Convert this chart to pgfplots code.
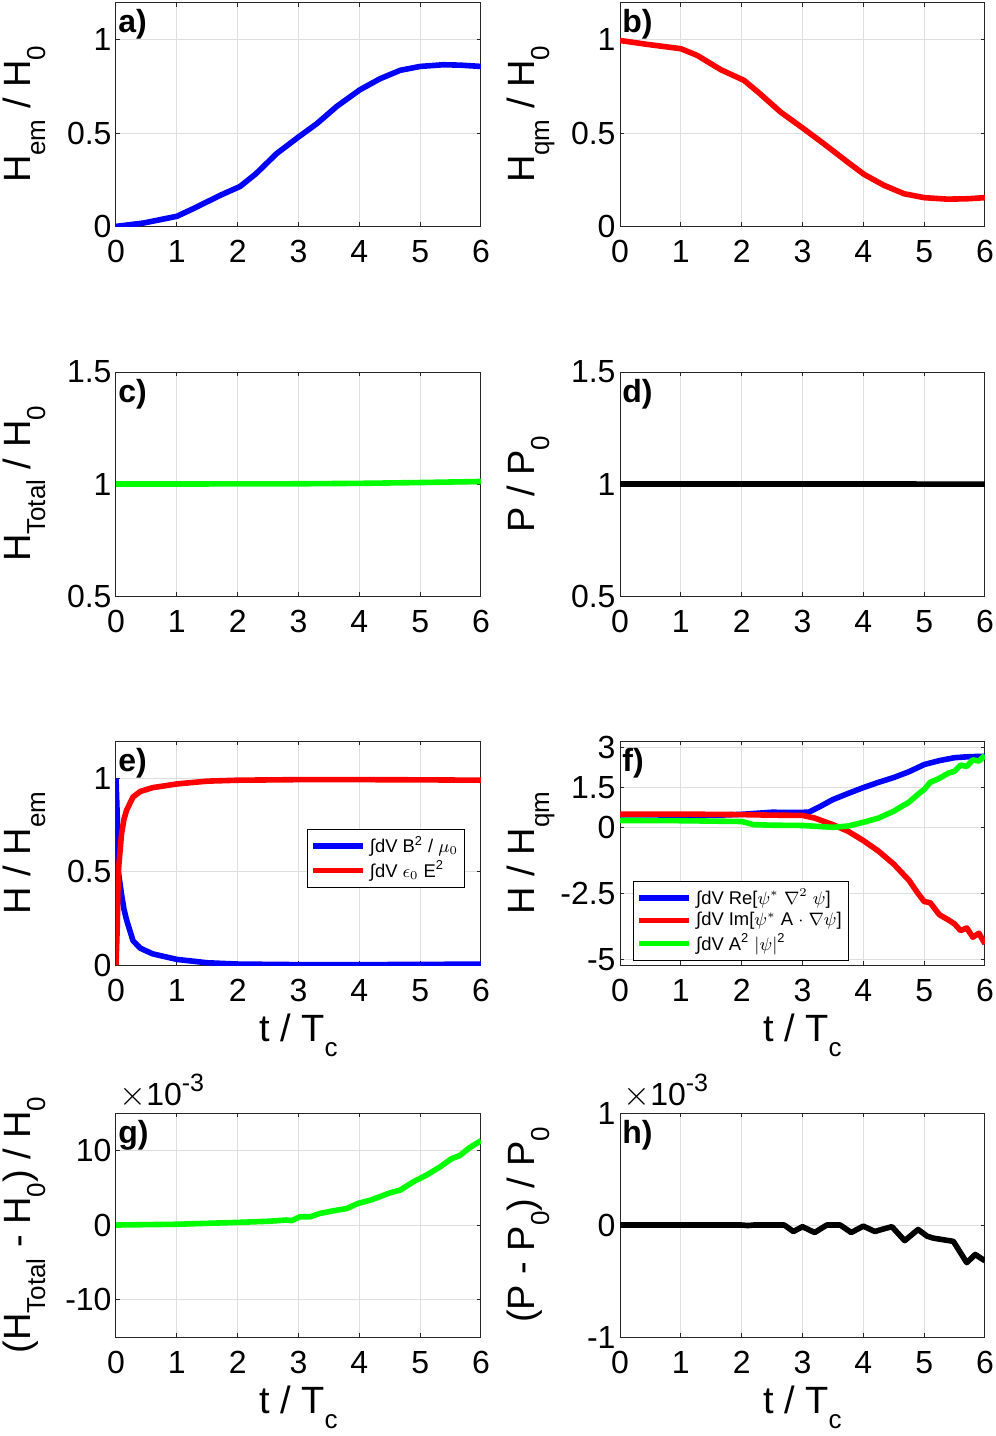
\documentclass[border=0pt]{standalone}
\usepackage{fontspec}
\setmainfont{Liberation Sans}
\usepackage{pgfplots}
\pgfplotsset{compat=1.18}

\newcommand{\ticksize}{\fontsize{16}{16}\selectfont}
\newcommand{\labsize}{\fontsize{19}{19}\selectfont}
\newcommand{\sub}[1]{\raisebox{-7.5pt}{\fontsize{13}{13}\selectfont #1}}
\newcommand{\legsize}{\fontsize{9.2}{9.5}\selectfont}

\definecolor{mblue}{rgb}{0,0,1}
\definecolor{mred}{rgb}{1,0,0}
\definecolor{mgreen}{rgb}{0,1,0}

\tikzset{
  plabel/.style={anchor=north west, inner sep=0pt,
    font=\bfseries\fontsize{16}{16}\selectfont},
}

\pgfplotsset{
  mat/.style={
    scale only axis, width=182.5pt, height=112pt,
    anchor=north west,
    xmin=0, xmax=6, xtick={0,1,2,3,4,5,6},
    xticklabels={0,1,2,3,4,5,6},
    axis line style={black!85, line width=0.5pt},
    tick style={black!85, line width=0.5pt},
    tick align=inside, major tick length=2.2pt,
    grid=major, major grid style={black!13, line width=0.5pt},
    every tick label/.append style={font=\ticksize},
    xticklabel style={yshift=-3.5pt},
    yticklabel style={xshift=1.3pt},
    label style={font=\labsize},
    ylabel style={at={(axis description cs:-0.235,0.5)}, anchor=base},
    xlabel style={at={(axis description cs:0.5,-0.342)}, anchor=base},
    every axis plot/.append style={line width=2.8pt, line join=round},
    legend style={font=\legsize, draw=black, line width=0.5pt, fill=white,
      inner sep=1.5pt, row sep=-1.5pt,
      nodes={inner sep=2pt}},
    legend cell align=left,
    legend image code/.code={\draw[#1] (0pt,0pt) -- (25pt,0pt);},
  },
  expo/.style={
    after end axis/.code={
      \node[anchor=base west, inner sep=0pt, font=\ticksize]
        at (rel axis cs:0,1) [xshift=1.5pt, yshift=4pt]
        {$\times$10\raisebox{7pt}{\fontsize{12.5}{12.5}\selectfont -3}};
    },
  },
}

\begin{document}
\begin{tikzpicture}
\path[use as bounding box] (0,0) rectangle (498pt,-718pt);

% a)
\begin{axis}[mat, at={(58pt,-1.2pt)}, ymin=0, ymax=1.2,
  ytick={0,0.5,1}, yticklabels={0,0.5,1},
  ylabel={H\sub{em} / H\sub{0}}]
\addplot[mblue] coordinates {
 (0,0) (0.45,0.018) (1,0.054) (1.27,0.095) (1.71,0.166) (2.04,0.214)
 (2.3,0.282) (2.64,0.39) (3.0,0.479) (3.3,0.55) (3.63,0.643) (4.01,0.732)
 (4.34,0.791) (4.67,0.836) (5.0,0.857) (5.38,0.866) (5.65,0.864) (6,0.857)};
\node[plabel] at (rel axis cs:0,1) [xshift=1pt, yshift=-3.5pt] {a)};
\end{axis}

% b)
\begin{axis}[mat, at={(310pt,-1.2pt)}, ymin=0, ymax=1.2,
  ytick={0,0.5,1}, yticklabels={0,0.5,1},
  ylabel={H\sub{qm} / H\sub{0}}]
\addplot[mred] coordinates {
 (0,0.996) (0.45,0.975) (1,0.952) (1.27,0.916) (1.66,0.839) (2.04,0.782)
 (2.3,0.711) (2.64,0.6125) (3.02,0.523) (3.35,0.443) (3.74,0.345) (4.01,0.279)
 (4.34,0.22) (4.67,0.175) (5.0,0.154) (5.38,0.146) (5.71,0.148) (6,0.154)};
\node[plabel] at (rel axis cs:0,1) [xshift=1pt, yshift=-3.5pt] {b)};
\end{axis}

% c)
\begin{axis}[mat, at={(58pt,-186pt)}, ymin=0.5, ymax=1.5,
  ytick={0.5,1,1.5}, yticklabels={0.5,1,1.5},
  ylabel={H\sub{Total} / H\sub{0}}]
\addplot[mgreen] coordinates {
 (0,1.0) (1,1.0001) (2,1.0004) (3,1.001) (4,1.0029) (5,1.0065) (5.5,1.0089) (6,1.0113)};
\node[plabel] at (rel axis cs:0,1) [xshift=1pt, yshift=-3.5pt] {c)};
\end{axis}

% d)
\begin{axis}[mat, at={(310pt,-186pt)}, ymin=0.5, ymax=1.5,
  ytick={0.5,1,1.5}, yticklabels={0.5,1,1.5},
  ylabel={P / P\sub{0}}]
\addplot[black] coordinates {(0,1) (3,1) (6,0.9997)};
\node[plabel] at (rel axis cs:0,1) [xshift=1pt, yshift=-3.5pt] {d)};
\end{axis}

% e)
\begin{axis}[mat, at={(58pt,-370.5pt)}, ymin=0, ymax=1.2,
  ytick={0,0.5,1}, yticklabels={0,0.5,1},
  ylabel={H / H\sub{em}}, xlabel={t / T\sub{c}},
  legend style={at={(rel axis cs:0.523,0.609)}, anchor=north west}]
\addplot[mblue] coordinates {
 (0,1) (0.02,0.8) (0.038,0.5) (0.09,0.38) (0.13,0.3) (0.175,0.24) (0.28,0.13)
 (0.4,0.09) (0.6,0.06) (1,0.03) (1.5,0.012) (2,0.005) (3,0.002) (4,0.002)
 (5,0.003) (6,0.005)};
\addlegendentry{∫dV B\textsuperscript{2} / $\mu_0$}
\addplot[mred] coordinates {
 (0,0) (0.02,0.2) (0.038,0.5) (0.09,0.7) (0.13,0.78) (0.175,0.83) (0.28,0.9)
 (0.4,0.93) (0.6,0.95) (1,0.97) (1.5,0.985) (2,0.99) (3,0.993) (4,0.993)
 (5,0.992) (6,0.99)};
\addlegendentry{∫dV $\epsilon_0$ E\textsuperscript{2}}
\node[plabel] at (rel axis cs:0,1) [xshift=1pt, yshift=-3.5pt] {e)};
\end{axis}

% f)
\begin{axis}[mat, at={(310pt,-370.5pt)}, ymin=-5.2, ymax=3.26,
  ytick={-5,-2.5,0,1.5,3}, yticklabels={-5,-2.5,0,1.5,3},
  ylabel={H / H\sub{qm}}, xlabel={t / T\sub{c}},
  legend style={at={(rel axis cs:0.036,0.373)}, anchor=north west}]
\addplot[mblue] coordinates {
 (0,0.47) (0.5,0.47) (1,0.46) (1.5,0.45) (2,0.49) (2.5,0.57) (2.8,0.56)
 (3.1,0.57) (3.3,0.8) (3.5,1.05) (3.75,1.28) (4,1.5) (4.25,1.7) (4.5,1.88)
 (4.75,2.1) (5,2.37) (5.25,2.52) (5.5,2.63) (5.75,2.67) (6,2.68)};
\addlegendentry{∫dV Re[$\psi^*$ $\nabla^2$ $\psi$]}
\addplot[mred] coordinates {
 (0,0.5) (1,0.5) (2,0.48) (2.5,0.46) (3,0.45) (3.2,0.35) (3.5,0.1)
 (3.75,-0.15) (4,-0.5) (4.25,-0.9) (4.5,-1.39) (4.75,-2.0) (4.9,-2.5)
 (5,-2.8) (5.1,-2.85) (5.25,-3.3) (5.4,-3.5) (5.5,-3.65) (5.6,-3.9)
 (5.7,-3.8) (5.8,-4.15) (5.9,-4.0) (6,-4.4)};
\addlegendentry{∫dV Im[$\psi^*$ A $\cdot$ $\nabla\psi$]}
\addplot[mgreen] coordinates {
 (0,0.26) (1,0.25) (2,0.22) (2.2,0.1) (2.5,0.08) (3,0.07) (3.5,0.0)
 (3.75,0.05) (4,0.19) (4.25,0.35) (4.5,0.61) (4.75,0.95) (4.9,1.25)
 (5,1.43) (5.1,1.7) (5.25,1.85) (5.4,2.05) (5.5,2.12) (5.6,2.35)
 (5.7,2.3) (5.8,2.55) (5.9,2.5) (6,2.72)};
\addlegendentry{∫dV A\textsuperscript{2} $|\psi|$\textsuperscript{2}}
\node[plabel] at (rel axis cs:0,1) [xshift=1pt, yshift=-3.5pt] {f)};
\end{axis}

% g)
\begin{axis}[mat, expo, at={(58pt,-556.5pt)}, ymin=-15, ymax=15,
  ytick={-10,0,10}, yticklabels={-10,0,10},
  ylabel={(H\sub{Total} - H\sub{0}) / H\sub{0}}, xlabel={t / T\sub{c}}]
\addplot[mgreen] coordinates {
 (0,0) (1,0.1) (2,0.35) (2.5,0.5) (2.8,0.67) (2.89,0.58) (3.02,1.1)
 (3.19,1.1) (3.35,1.55) (3.57,1.9) (3.79,2.2) (3.98,2.9) (4.18,3.33)
 (4.34,3.8) (4.5,4.3) (4.67,4.67) (4.89,5.8) (5.1,6.67) (5.33,7.8)
 (5.52,8.9) (5.65,9.3) (5.82,10.4) (6,11.3)};
\node[plabel] at (rel axis cs:0,1) [xshift=1pt, yshift=-3.5pt] {g)};
\end{axis}

% h)
\begin{axis}[mat, expo, at={(310pt,-556.5pt)}, ymin=-1, ymax=1,
  ytick={-1,0,1}, yticklabels={-1,0,1},
  ylabel={(P - P\sub{0}) / P\sub{0}}, xlabel={t / T\sub{c}}]
\addplot[black] coordinates {
 (0,0) (1,0) (2,0) (2.1,-0.005) (2.2,0) (2.7,0) (2.85,-0.058) (3.0,-0.015)
 (3.2,-0.067) (3.4,0) (3.62,0) (3.8,-0.067) (4.0,-0.01) (4.19,-0.058)
 (4.3,-0.04) (4.47,-0.015) (4.68,-0.14) (4.9,-0.04) (5.05,-0.1)
 (5.15,-0.117) (5.48,-0.146) (5.7,-0.336) (5.84,-0.263) (6,-0.32)};
\node[plabel] at (rel axis cs:0,1) [xshift=1pt, yshift=-3.5pt] {h)};
\end{axis}
\end{tikzpicture}
\end{document}
